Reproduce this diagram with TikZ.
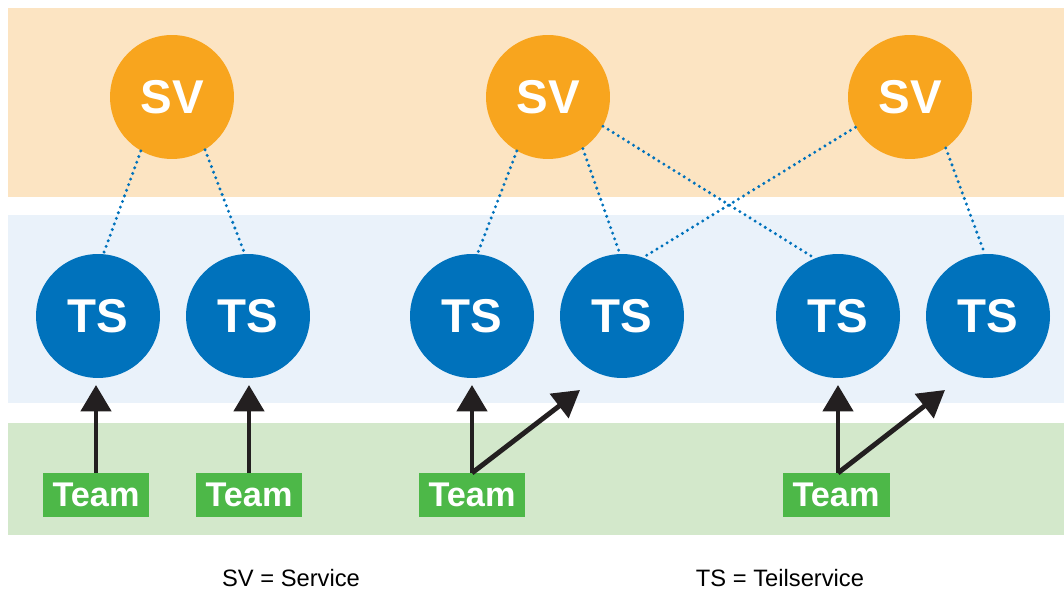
\documentclass[tikz,border=0pt]{standalone}
\usepackage{fontspec}
\setmainfont{Liberation Sans}
\usetikzlibrary{arrows.meta}
\definecolor{bandO}{HTML}{FCE4C2}
\definecolor{bandB}{HTML}{EAF2FA}
\definecolor{bandG}{HTML}{D3E8CB}
\definecolor{svC}{HTML}{F8A51E}
\definecolor{tsC}{HTML}{0072BC}
\definecolor{teamC}{HTML}{4DB848}
\definecolor{arrC}{HTML}{231F20}
\tikzset{
  sv/.style={circle,fill=svC,minimum size=2.48cm,inner sep=0pt,text=white,font=\fontsize{27}{27}\selectfont\bfseries},
  ts/.style={circle,fill=tsC,minimum size=2.48cm,inner sep=0pt,text=white,font=\fontsize{27}{27}\selectfont\bfseries},
  team/.style={fill=teamC,minimum width=2.14cm,minimum height=0.88cm,inner sep=0pt,text=white,font=\fontsize{19.5}{19.5}\selectfont\bfseries},
  link/.style={tsC,line width=1.9pt,line cap=round,dash pattern=on 0pt off 3.4pt},
  up/.style={arrC,line width=2.8pt,-{Triangle[length=15pt,width=17pt]}},
  legend/.style={font=\fontsize{13.5}{13.5}\selectfont,text=black}
}
\begin{document}
\begin{tikzpicture}[x=0.02cm,y=-0.02cm]
\useasboundingbox (0,0) rectangle (1064,590);
\fill[bandO] (8,8) rectangle (1064,197);
\fill[bandB] (8,215) rectangle (1064,403);
\fill[bandG] (8,423) rectangle (1064,535);
\node[sv] (sv1) at (172,97) {SV};
\node[sv] (sv2) at (548,97) {SV};
\node[sv] (sv3) at (910,97) {SV};
\node[ts] (ts1) at (98,316) {TS};
\node[ts] (ts2) at (248,316) {TS};
\node[ts] (ts3) at (472,316) {TS};
\node[ts] (ts4) at (622,316) {TS};
\node[ts] (ts5) at (838,316) {TS};
\node[ts] (ts6) at (988,316) {TS};
\node[team] (t1) at (96,495) {Team};
\node[team] (t2) at (249,495) {Team};
\node[team] (t3) at (472,495) {Team};
\node[team] (t4) at (836,495) {Team};
\draw[link] (sv1.240) -- (ts1.85);
\draw[link] (sv1.302) -- (ts2.93);
\draw[link] (sv2.240) -- (ts3.85);
\draw[link] (sv2.304) -- (ts4.92);
\draw[link] (sv2.332) -- (ts5.112);
\draw[link] (sv3.209) -- (ts4.70);
\draw[link] (sv3.305) -- (ts6.93);
\coordinate (a1) at (96,473);
\coordinate (a2) at (249,473);
\coordinate (a3) at (472,473);
\coordinate (a4) at (838,473);
\coordinate (e1) at (96,385);
\coordinate (e2) at (249,385);
\coordinate (e3) at (472,385);
\coordinate (e5) at (838,385);
\coordinate (d3) at (580,390);
\coordinate (d4) at (945,390);
\draw[up] (a1) -- (e1);
\draw[up] (a2) -- (e2);
\draw[up] (a3) -- (e3);
\draw[up] (a3) -- (d3);
\draw[up] (a4) -- (e5);
\draw[up] (a4) -- (d4);
\node[legend] (l1) at (291,578) {SV = Service};
\node[legend] (l2) at (780,578) {TS = Teilservice};
\end{tikzpicture}
\end{document}
